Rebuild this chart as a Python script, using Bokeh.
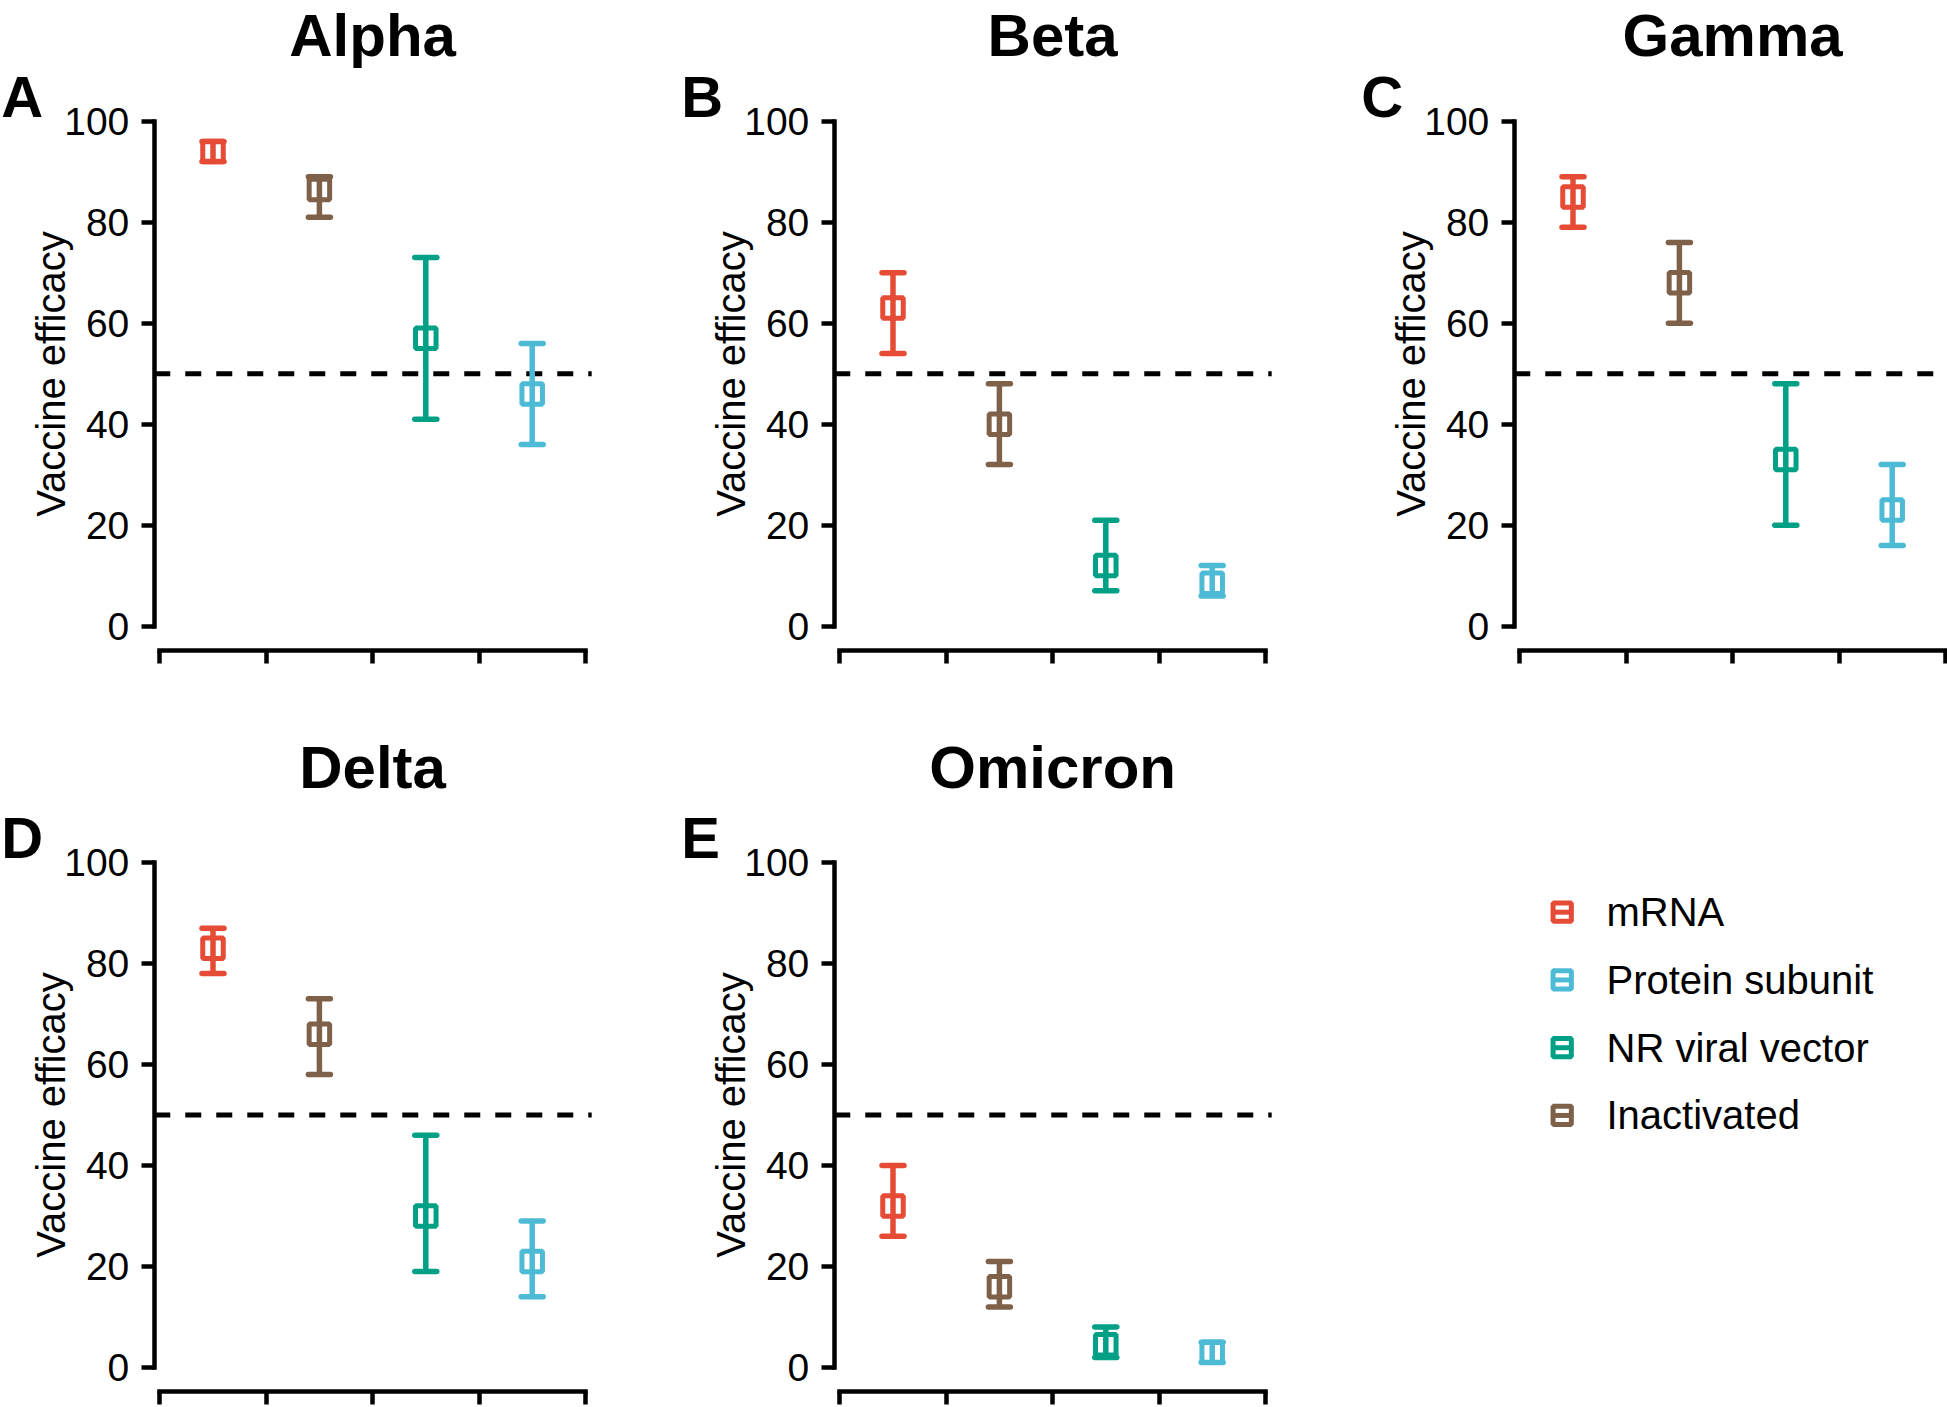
from bokeh.plotting import figure
from bokeh.models import (ColumnDataSource, Range1d, FixedTicker, Label)
from bokeh.layouts import row, column
from bokeh.embed import file_html
from bokeh.resources import INLINE
from bokeh.core.properties import value

FONT = "Liberation Sans"

# ---------------- data ----------------
vaccine_types = ["mRNA", "Inactivated", "NR viral vector", "Protein subunit"]
legend_order = ["mRNA", "Protein subunit", "NR viral vector", "Inactivated"]
type_colors = ["#E64B35", "#7E6148", "#00A087", "#4DBBD5"]

variants = ["Alpha", "Beta", "Gamma", "Delta", "Omicron"]
panel_letters = ["A", "B", "C", "D", "E"]

efficacy_alpha = [94, 86.5, 57, 46]
lower_alpha = [92, 81, 41, 36]
upper_alpha = [96, 89, 73, 56]

efficacy_beta = [63, 40, 12, 8.5]
lower_beta = [54, 32, 7, 6]
upper_beta = [70, 48, 21, 12]

efficacy_gamma = [85, 68, 33, 23]
lower_gamma = [79, 60, 20, 16]
upper_gamma = [89, 76, 48, 32]

efficacy_delta = [83, 66, 30, 21]
lower_delta = [78, 58, 19, 14]
upper_delta = [87, 73, 46, 29]

efficacy_omicron = [32, 16, 4.5, 3]
lower_omicron = [26, 12, 2, 1]
upper_omicron = [40, 21, 8, 5]

y_ticks = [0, 20, 40, 60, 80, 100]
x_ticks = [0, 1, 2, 3, 4]
threshold = 50
y_label = "Vaccine efficacy"

# ---------------- geometry (pixels / axis placement) ----------------
PX_X = 106.4          # px per category slot
PX_Y = 5.05           # px per efficacy unit
Y_AXIS_X = -0.052     # where the y axis line sits (data x)
X_AXIS_Y = -4.85      # where the x axis line sits (data y)
X_RIGHT = 4.059       # right end of the plotting region
TITLE_Y_TOP = 117.0   # top-row titles (kept inside the page)
TITLE_Y_BOTTOM = 118.8
LETTER_Y = 104.9
LETTER_X = -1.49


def make_panel(title, letter, eff, lo, hi, width, height, x0_px, y100_px, title_y):
    x_start = -x0_px / PX_X
    y_top = 100 + y100_px / PX_Y
    p = figure(width=width, height=height,
               x_range=Range1d(x_start, x_start + width / PX_X),
               y_range=Range1d(y_top - height / PX_Y, y_top),
               min_border=0, min_border_left=0, min_border_right=0,
               min_border_top=0, min_border_bottom=0,
               toolbar_location=None, output_backend="svg", tools="")
    p.grid.visible = False
    p.outline_line_color = None
    p.background_fill_color = "white"
    p.border_fill_color = "white"

    ref_src = ColumnDataSource(dict(x0=[Y_AXIS_X], x1=[X_RIGHT], y=[threshold]))
    p.segment(x0="x0", y0="y", x1="x1", y1="y", source=ref_src,
              line_color="black", line_width=5, line_dash="16 15")

    src = ColumnDataSource(dict(
        x=[i + 0.5 for i in range(len(vaccine_types))],
        y=eff, lo=lo, hi=hi, color=type_colors, name=vaccine_types))
    p.segment(x0="x", y0="lo", x1="x", y1="hi", source=src,
              line_color="color", line_width=5.5)
    p.scatter(x="x", y="hi", source=src, marker="dash", size=22,
              line_color="color", line_width=5.5, line_cap="round")
    p.scatter(x="x", y="lo", source=src, marker="dash", size=22,
              line_color="color", line_width=5.5, line_cap="round")
    p.scatter(x="x", y="y", source=src, marker="square", size=20.5,
              line_color="color", fill_color=None, line_width=5)

    yax = p.yaxis[0]
    yax.fixed_location = Y_AXIS_X
    yax.ticker = FixedTicker(ticks=y_ticks)
    yax.bounds = (0, 100)
    yax.axis_label = y_label
    yax.axis_line_width = 4.5
    yax.axis_line_cap = "square"
    yax.major_tick_line_width = 4.5
    yax.major_tick_out = 13
    yax.major_tick_in = 0
    yax.minor_tick_line_color = None
    yax.major_label_text_font = FONT
    yax.major_label_text_font_size = "39px"
    yax.major_label_text_color = "black"
    yax.major_label_standoff = 12
    yax.axis_label_text_font = FONT
    yax.axis_label_text_font_size = "40px"
    yax.axis_label_text_font_style = "normal"
    yax.axis_label_text_color = "black"
    yax.axis_label_standoff = -12

    xax = p.xaxis[0]
    xax.fixed_location = X_AXIS_Y
    xax.ticker = FixedTicker(ticks=x_ticks)
    xax.bounds = (0, 4)
    xax.axis_line_width = 4.5
    xax.axis_line_cap = "square"
    xax.major_tick_line_width = 4.5
    xax.major_tick_out = 13
    xax.major_tick_in = 0
    xax.minor_tick_line_color = None
    xax.major_label_overrides = {t: "" for t in x_ticks}
    xax.major_label_text_font_size = "1px"
    xax.major_label_standoff = 0

    p.add_layout(Label(x=2, y=title_y, text=title, text_font=FONT,
                       text_font_style="bold", text_font_size="60px",
                       text_align="center", text_baseline="alphabetic",
                       text_color="black"))
    p.add_layout(Label(x=LETTER_X, y=LETTER_Y, text=letter, text_font=FONT,
                       text_font_style="bold", text_font_size="58px",
                       text_align="left", text_baseline="alphabetic",
                       text_color="black"))
    return p


TOP_H, BOT_H = 700, 707
W_A, W_B, W_C = 660, 670, 617

pA = make_panel(variants[0], panel_letters[0], efficacy_alpha, lower_alpha, upper_alpha,
                W_A, TOP_H, 159.3, 120.7, TITLE_Y_TOP)
pB = make_panel(variants[1], panel_letters[1], efficacy_beta, lower_beta, upper_beta,
                W_B, TOP_H, 179.3, 120.7, TITLE_Y_TOP)
pC = make_panel(variants[2], panel_letters[2], efficacy_gamma, lower_gamma, upper_gamma,
                W_C, TOP_H, 189.3, 120.7, TITLE_Y_TOP)
pD = make_panel(variants[3], panel_letters[3], efficacy_delta, lower_delta, upper_delta,
                W_A, BOT_H, 159.3, 162.0, TITLE_Y_BOTTOM)
pE = make_panel(variants[4], panel_letters[4], efficacy_omicron, lower_omicron, upper_omicron,
                W_B, BOT_H, 179.3, 162.0, TITLE_Y_BOTTOM)

# ---------------- legend panel ----------------
ROW_PX = 67.75        # px between legend rows
FIRST_ROW_PX = 211.7  # px from top of panel to first row
MARK_PX = 231.7       # px from left of panel to legend symbols
leg_top = FIRST_ROW_PX / ROW_PX
pL = figure(width=W_C, height=BOT_H,
            x_range=Range1d(-MARK_PX, W_C - MARK_PX),
            y_range=Range1d(leg_top - BOT_H / ROW_PX, leg_top),
            x_axis_location=None, y_axis_location=None,
            min_border=0, min_border_left=0, min_border_right=0,
            min_border_top=0, min_border_bottom=0,
            toolbar_location=None, output_backend="svg", tools="")
for g in pL.grid:
    g.visible = False
pL.outline_line_color = None

leg_src = ColumnDataSource(dict(
    x=[0] * len(legend_order),
    y=[-i for i in range(len(legend_order))],
    name=legend_order,
    color=[type_colors[vaccine_types.index(n)] for n in legend_order]))
pL.scatter(x="x", y="y", source=leg_src, marker="square", size=18.3,
           line_color="color", fill_color=None, line_width=5)
pL.scatter(x="x", y="y", source=leg_src, marker="dash", size=18.3,
           line_color="color", line_width=5)
pL.text(x="x", y="y", text="name", source=leg_src, x_offset=44.3,
        text_baseline="middle", text_align="left", text_color="black",
        text_font=value(FONT), text_font_size="40px")

layout = column(row(pA, pB, pC), row(pD, pE, pL))

with open("out.html", "w") as f:
    f.write(file_html(layout, INLINE, "Vaccine efficacy"))
